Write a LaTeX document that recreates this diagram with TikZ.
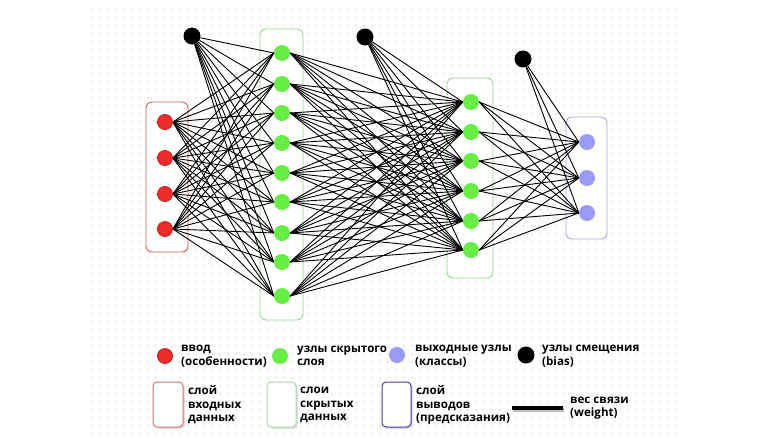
\documentclass[tikz,border=0pt]{standalone}
\usepackage{fontspec}
\setmainfont{Open Sans}
\usetikzlibrary{backgrounds}
\definecolor{inred}{HTML}{EE2A2A}
\definecolor{inredd}{HTML}{C81818}
\definecolor{hidgreen}{HTML}{66EE44}
\definecolor{outblue}{HTML}{9A9AF8}
\definecolor{boxred}{HTML}{D85A5A}
\definecolor{boxgreen}{HTML}{8ED88A}
\definecolor{boxblue}{HTML}{A8A8E8}
\definecolor{legblue}{HTML}{3A3AB0}
\definecolor{legred}{HTML}{D07070}
\definecolor{leggreen}{HTML}{A8D8A8}
\begin{document}
\begin{tikzpicture}[x=1pt,y=-1pt,
  innode/.style={circle,fill=inred,draw=inredd,line width=0.8pt,minimum size=15pt,inner sep=0pt},
  hidnode/.style={circle,fill=hidgreen,draw=none,minimum size=16pt,inner sep=0pt},
  outnode/.style={circle,fill=outblue,draw=none,minimum size=16pt,inner sep=0pt},
  biasnode/.style={circle,fill=black,draw=none,minimum size=17pt,inner sep=0pt},
  edge/.style={draw=black,line width=0.9pt},
  layerbox/.style={rounded corners=6pt,line width=0.9pt,fill=white},
  legbox/.style={rounded corners=4pt,line width=1pt,fill=white},
  legtext/.style={anchor=west,align=left,inner sep=0pt,font=\fontsize{11.6}{13.5}\selectfont\bfseries},
  gdot/.style={fill=black!8}
]
\useasboundingbox (0,0) rectangle (780,440);
% input nodes
\foreach \i/\y in {1/122,2/158,3/194,4/229}
  \node[innode] (i\i) at (165,\y) {};
% hidden layer 1
\foreach \i/\y in {1/53,2/84,3/113,4/143,5/173,6/202,7/233,8/262,9/296}
  \node[hidnode] (h\i) at (282,\y) {};
% hidden layer 2
\foreach \i/\y in {1/102,2/132,3/161,4/191,5/221,6/250}
  \node[hidnode] (g\i) at (471,\y) {};
% output
\foreach \i/\y in {1/142,2/178,3/213}
  \node[outnode] (o\i) at (587,\y) {};
% bias
\node[biasnode] (b1) at (192,36) {};
\node[biasnode] (b2) at (365,37) {};
\node[biasnode] (b3) at (523,59) {};
% legend
\node[innode] (l1) at (165,356) {};
\node[legtext] (t1) at (181,356) {ввод\\(особенности)};
\node[hidnode] (l2) at (280,356) {};
\node[legtext] (t2) at (297,356) {узлы скрытого\\слоя};
\node[outnode] (l3) at (397,355) {};
\node[legtext] (t3) at (415,356) {выходные узлы\\(классы)};
\node[biasnode] (l4) at (526,355) {};
\node[legtext] (t4) at (542,356) {узлы смещения\\(bias)};
\node[legtext] (t5) at (188,405) {слой\\входных\\данных};
\node[legtext] (t6) at (300,405) {слои\\скрытых\\данных};
\node[legtext] (t7) at (416,405) {слой\\выводов\\(предсказания)};
\node[legtext] (t8) at (570,408) {вес связи\\(weight)};
\coordinate (w1) at (512,408);
\coordinate (w2) at (563,408);
\begin{pgfonlayer}{background}
  % dotted grid
  \foreach \x in {92,100,...,676}
    \foreach \y in {10,18,...,436}
      \fill[gdot] (\x,\y) circle (1.3);
  % layer boxes
  \draw[layerbox,draw=boxred] (146,102) rectangle (188,252);
  \draw[layerbox,draw=boxgreen] (260,29) rectangle (303,320);
  \draw[layerbox,draw=boxgreen] (447,78) rectangle (493,278);
  \draw[layerbox,draw=boxblue] (566,117) rectangle (607,239);
  % legend boxes
  \fill[black!12,rounded corners=4pt] (155,384) rectangle (185,429);
  \draw[legbox,draw=legred] (153,382) rectangle (183,427);
  \fill[black!12,rounded corners=4pt] (269,384) rectangle (298,429);
  \draw[legbox,draw=leggreen] (267,382) rectangle (296,427);
  \fill[black!12,rounded corners=4pt] (384,384) rectangle (413,429);
  \draw[legbox,draw=legblue] (382,382) rectangle (411,427);
  \draw[black!25,line width=4pt] ([shift={(1,1.5)}]w1) -- ([shift={(1,1.5)}]w2);
  \draw[black,line width=3.6pt] (w1) -- (w2);
  % edges
  \foreach \a in {1,...,4}
    \foreach \b in {1,...,9}
      \draw[edge] (i\a.east) -- (h\b.west);
  \foreach \b in {1,...,9}
    \draw[edge] (b1) -- (h\b.west);
  \foreach \a in {1,...,9}
    \foreach \b in {1,...,6}
      \draw[edge] (h\a.east) -- (g\b.west);
  \foreach \b in {1,...,6}
    \draw[edge] (b2) -- (g\b.west);
  \foreach \a in {1,...,6}
    \foreach \b in {1,...,3}
      \draw[edge] (g\a.east) -- (o\b.west);
  \foreach \b in {1,...,3}
    \draw[edge] (b3) -- (o\b.west);
\end{pgfonlayer}
\end{tikzpicture}
\end{document}
